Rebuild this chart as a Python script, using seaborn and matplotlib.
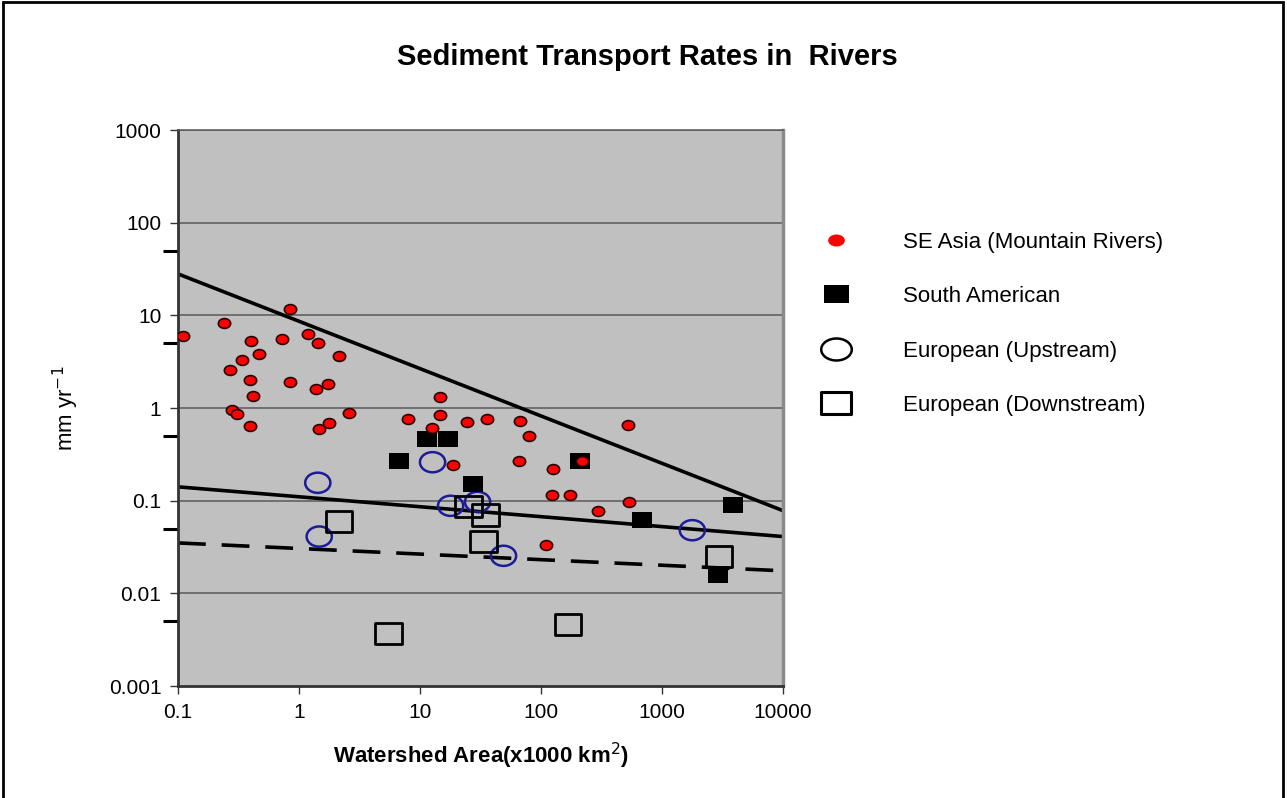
import numpy as np
import pandas as pd
import seaborn as sns
import matplotlib
matplotlib.use("Agg")
from matplotlib import pyplot as plt
from matplotlib.path import Path
from matplotlib.transforms import Affine2D
from matplotlib.lines import Line2D
from matplotlib.patches import Rectangle
from matplotlib.ticker import FixedLocator, NullFormatter


# SE Asia (mountain rivers)
asia_area = [0.11, 0.24, 0.27, 0.34, 0.40, 0.39, 0.47, 0.42, 0.28, 0.31, 0.39,
             0.72, 0.84, 0.84, 1.18, 1.43, 1.37, 1.73, 1.46, 1.77, 2.13, 2.58,
             8.0, 12.5, 14.5, 14.5, 18.6, 24.3, 35.5, 67.6, 80, 66, 126, 123,
             175, 298, 526, 537, 109, 220]
asia_rate = [6.0, 8.3, 2.6, 3.3, 5.3, 2.0, 3.8, 1.35, 0.95, 0.87, 0.64,
             5.6, 11.7, 1.9, 6.3, 5.0, 1.6, 1.8, 0.60, 0.69, 3.6, 0.89,
             0.76, 0.61, 1.32, 0.83, 0.245, 0.71, 0.76, 0.72, 0.50, 0.27, 0.22, 0.115,
             0.115, 0.078, 0.66, 0.097, 0.033, 0.27]

# South American
sa_area = [6.66, 11.5, 17.1, 27.2, 211, 687, 3870, 2910]
sa_rate = [0.27, 0.464, 0.464, 0.152, 0.27, 0.062, 0.089, 0.0158]

# European upstream
up_area = [1.43, 1.47, 12.7, 17.9, 29.9, 49, 1780]
up_rate = [0.156, 0.041, 0.26, 0.088, 0.097, 0.0254, 0.048]

# European downstream
down_area = [2.13, 5.5, 25.2, 34.8, 33.5, 168, 2960]
down_rate = [0.059, 0.0037, 0.086, 0.070, 0.036, 0.0046, 0.0247]

# trend lines (end points, power law -> straight on log-log)
trend_x = [0.1, 10000]
trend_upper = [28, 0.078]
trend_mid = [0.141, 0.041]
trend_dash = [0.035, 0.0175]

labels = ["SE Asia (Mountain Rivers)", "South American",
          "European (Upstream)", "European (Downstream)"]


def squashed(path, ratio):
    return path.transformed(Affine2D().scale(1, ratio))


circ = squashed(Path.unit_circle(), 0.8)
sq = Path.unit_rectangle().transformed(Affine2D().translate(-0.5, -0.5).scale(1, 0.8))
circ_leg = squashed(Path.unit_circle(), 0.72)
sq_leg = Path.unit_rectangle().transformed(Affine2D().translate(-0.5, -0.5).scale(1, 0.72))

sns.set_style("white")
plt.rcParams['font.family'] = ['Liberation Sans', 'DejaVu Sans']
plt.rcParams['text.color'] = 'black'
plt.rcParams['axes.labelcolor'] = 'black'
plt.rcParams['xtick.color'] = 'black'
plt.rcParams['ytick.color'] = 'black'

fig = plt.figure(figsize=(12.87, 7.98), dpi=100)
ax = fig.add_axes([178 / 1287, 1 - 686 / 798, 605 / 1287, 556 / 798])
ax.set_facecolor('#c0c0c0')
ax.set_xscale('log')
ax.set_yscale('log')
ax.set_xlim(0.1, 10000)
ax.set_ylim(0.001, 1000)

for yv in [0.01, 0.1, 1, 10, 100, 1000]:
    ax.axhline(yv, color='#5a5a5a', lw=1.1, zorder=0.5)

lines = pd.DataFrame({'x': trend_x * 3,
                      'y': trend_upper + trend_mid + trend_dash,
                      'fit': ['upper'] * 2 + ['mid'] * 2 + ['dash'] * 2})
sns.lineplot(data=lines[lines.fit == 'upper'], x='x', y='y', color='black', lw=2.6, ax=ax, zorder=2)
sns.lineplot(data=lines[lines.fit == 'mid'], x='x', y='y', color='black', lw=2.6, ax=ax, zorder=2)
sns.lineplot(data=lines[lines.fit == 'dash'], x='x', y='y', color='black', lw=2.6, ax=ax, zorder=2,
             dashes=False, linestyle=(0, (7.7, 4.4)))

sns.scatterplot(x=up_area, y=up_rate, marker=circ, s=330, facecolor='none',
                edgecolor='#1c1c96', linewidth=1.8, ax=ax, zorder=3)
sns.scatterplot(x=down_area, y=down_rate, marker=sq, s=360, facecolor='none',
                edgecolor='black', linewidth=2.0, ax=ax, zorder=3)
sns.scatterplot(x=sa_area, y=sa_rate, marker=sq, s=190, color='black',
                edgecolor='black', linewidth=0, ax=ax, zorder=4)
sns.scatterplot(x=asia_area, y=asia_rate, marker=circ, s=78, color='#ff0000',
                edgecolor='#2a0000', linewidth=1.2, ax=ax, zorder=5)

ax.set_xticks([0.1, 1, 10, 100, 1000, 10000])
ax.set_xticklabels(['0.1', '1', '10', '100', '1000', '10000'])
ax.set_yticks([0.001, 0.01, 0.1, 1, 10, 100, 1000])
ax.set_yticklabels(['0.001', '0.01', '0.1', '1', '10', '100', '1000'])
ax.yaxis.set_minor_locator(FixedLocator([0.005, 0.05, 0.5, 5, 50]))
ax.yaxis.set_minor_formatter(NullFormatter())
ax.xaxis.set_minor_locator(FixedLocator([]))
ax.tick_params(axis='both', which='major', direction='out', length=6, width=1,
               color='#333333', labelsize=15, pad=6, left=True, bottom=True)
ax.tick_params(axis='y', which='minor', direction='out', length=11, width=2.2,
               color='black', left=True)

for side in ['left', 'bottom']:
    ax.spines[side].set_color('#333333')
    ax.spines[side].set_linewidth(2)
ax.spines['right'].set_color('#8a8a8a')
ax.spines['right'].set_linewidth(2.5)
ax.spines['top'].set_color('#5a5a5a')
ax.spines['top'].set_linewidth(1.1)

ax.set_xlabel('Watershed Area(x1000 km$^{2}$)', fontsize=16, fontweight='bold', labelpad=14)
ax.set_ylabel('mm yr$^{-1}$', fontsize=16, labelpad=20)
fig.text(0.503, 0.929, 'Sediment Transport Rates in  Rivers', ha='center', va='center',
         fontsize=21, fontweight='bold')

handles = [
    Line2D([], [], ls='none', marker=circ_leg, markersize=12, color='#ff0000', mew=0),
    Line2D([], [], ls='none', marker=sq_leg, markersize=18, color='black', mew=0),
    Line2D([], [], ls='none', marker=circ_leg, markersize=22, mfc='none', mec='black', mew=1.8),
    Line2D([], [], ls='none', marker=sq_leg, markersize=22, mfc='none', mec='black', mew=2.2),
]
fig.legend(handles, labels, loc='upper left', bbox_to_anchor=(0.6165, 0.7345), frameon=False,
           fontsize=16, handlelength=2.0, handletextpad=2.05, labelspacing=1.5,
           borderpad=0.4)

fig.patches.append(Rectangle((0.0025, -0.05), 0.9945, 1.047, transform=fig.transFigure,
                             fill=False, edgecolor='black', lw=2))

fig.savefig('out.png', dpi=100)
